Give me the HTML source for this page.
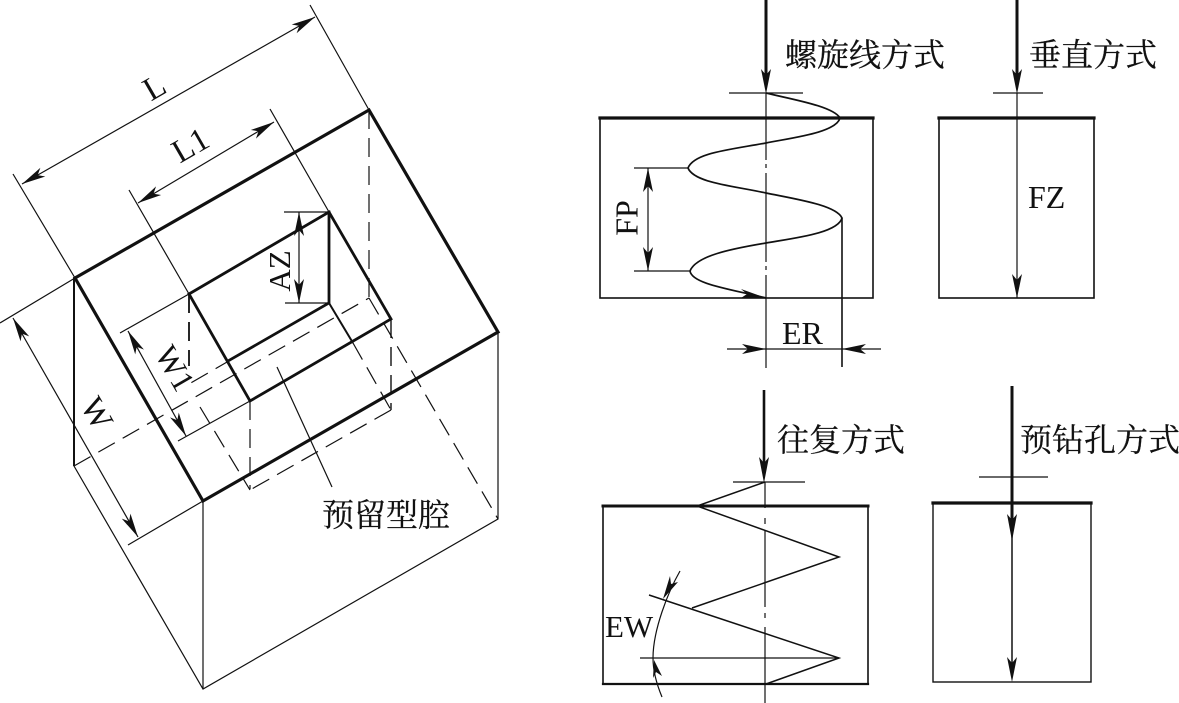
<!DOCTYPE html>
<html><head><meta charset="utf-8">
<style>
html,body{margin:0;padding:0;background:#fff;width:1179px;height:703px;overflow:hidden}
svg{display:block}
text{font-family:"Liberation Serif","Noto Serif CJK SC",serif;fill:#111}
.c{stroke:#111;stroke-width:.25}
.k{stroke:#111;stroke-width:3.2;fill:none;stroke-linecap:square}
.m{stroke:#111;stroke-width:2;fill:none}
.t{stroke:#111;stroke-width:1.2;fill:none}
.d{stroke:#111;stroke-width:1.2;fill:none;stroke-dasharray:19 9}
.b{marker-start:url(#ahs);marker-end:url(#ah)}
.a{marker-end:url(#ah)}
</style></head><body>
<svg width="1179" height="703" viewBox="0 0 1179 703" xmlns="http://www.w3.org/2000/svg">
<defs>
<marker id="ah" markerUnits="userSpaceOnUse" markerWidth="30" markerHeight="14" refX="25" refY="7" orient="auto">
<path d="M25,7 L1,2 L7,7 L1,12 Z" fill="#111"/></marker>
<marker id="ahs" markerUnits="userSpaceOnUse" markerWidth="30" markerHeight="14" refX="25" refY="7" orient="auto-start-reverse">
<path d="M25,7 L1,2 L7,7 L1,12 Z" fill="#111"/></marker>
</defs>
<rect width="1179" height="703" fill="#fff"/>

<!-- LEFT 3D FIGURE -->
<path class="k" d="M75,278 L369,110 L498,332 L203,501 Z"/>
<path class="t" d="M74,278 V466 L203,689 L498,519 V332 M203,501 V689"/>
<path class="m" d="M74,278 V466"/>
<!-- hidden -->
<path class="d" d="M74,466 L369,298"/>
<path class="d" d="M369,110 V298"/>
<path class="d" d="M369,298 L498,519"/>
<path class="d" d="M189,294 V366" style="stroke-width:1.8"/>
<path class="d" d="M250,401 V489"/>
<path class="d" d="M391,319 V410" style="stroke-width:1.4"/>
<path class="d" d="M391,410 L250,490"/>
<path class="d" d="M353,343 L391,410"/>
<path class="d" d="M329,303 L189,384"/>
<path class="d" d="M200,407 L250,490"/>
<!-- pocket -->
<path class="k" d="M189,294 L329,212 L391,319 L250,401 Z" style="stroke-width:2.8"/>
<path class="k" d="M329,212 V303 L228,361" style="stroke-width:2.8"/>
<path class="m" d="M329,303 L353,343"/>
<!-- dims -->
<path class="t" d="M13,174 L75,278 M310,5 L369,110"/>
<path class="t b" d="M22,184 L315,17"/>
<path class="t" d="M129,190 L189,294 M270,109 L329,212"/>
<path class="t b" d="M138,203 L274,122"/>
<path class="t" d="M0,323 L75,278 M128,545 L203,501"/>
<path class="t b" d="M13,318 L138,537"/>
<path class="t" d="M120,333 L189,294 M178,441 L250,401"/>
<path class="t b" d="M128,331 L186,436"/>
<path class="t" d="M284,212 H329 M285,303 H329"/>
<path class="t b" d="M299,212 V303"/>
<path class="t" d="M277,367 L332,487"/>
<text font-size="33" transform="translate(156,90) rotate(-30)" text-anchor="middle" dominant-baseline="middle">L</text>
<text font-size="33" transform="translate(192,148) rotate(-30)" text-anchor="middle" dominant-baseline="middle">L1</text>
<text font-size="33" transform="translate(94,415) rotate(60)" text-anchor="middle" dominant-baseline="middle">W</text>
<text font-size="32" transform="translate(172,370) rotate(60)" text-anchor="middle" dominant-baseline="middle">W1</text>
<text font-size="31" transform="translate(283,271) rotate(-90)" text-anchor="middle" dominant-baseline="middle">AZ</text>
<text class="c" x="322" y="526" font-size="32">预留型腔</text>

<!-- HELIX -->
<rect class="t" x="600" y="118" width="273" height="180" style="stroke-width:1.6"/>
<path class="k" d="M600,118 H873"/>
<path d="M766,0 V80" stroke="#111" stroke-width="3" fill="none"/>
<path d="M766,94 L761,69 L766,75 L771,69 Z" fill="#111"/>
<path class="t" d="M729,93 H803"/>
<path class="t" d="M766,93 V160 M766,164 V168 M766,173 V262 M766,266 V270 M766,275 V368"/>
<path class="m" style="stroke-width:1.7" d="M766,93 C790,99 833,106 840,118 C836,133 790,138 766,143 C728,150 694,153 688,168 C694,183 735,186 766,193 C795,199 836,205 842,218 C838,233 795,238 766,243 C730,249 696,256 690,271 C692,284 730,289 766,298"/>
<path d="M741,289 L766,298 L741,298 L747,294 Z" fill="#111"/>
<path class="t" d="M634,168 H688 M634,271 H690"/>
<path class="t b" d="M648,168 V271"/>
<path class="m" style="stroke-width:1.6" d="M842,218 V367"/>
<path class="t" d="M727,349 H881"/>
<path d="M766,349 L742,344 L748,349 L742,354 Z M842,349 L866,344 L860,349 L866,354 Z" fill="#111"/>
<text font-size="32" x="630" y="218" transform="rotate(-90 630 218)" text-anchor="middle" dominant-baseline="middle">FP</text>
<text font-size="32" x="782" y="344">ER</text>
<text class="c" x="785" y="66" font-size="32">螺旋线方式</text>

<!-- VERTICAL -->
<rect class="t" x="939" y="118" width="155" height="180" style="stroke-width:1.6"/>
<path class="k" d="M939,118 H1094"/>
<path d="M1017,0 V80" stroke="#111" stroke-width="3" fill="none"/>
<path d="M1017,94 L1012,69 L1017,75 L1022,69 Z" fill="#111"/>
<path class="t" d="M993,93 H1043"/>
<path class="t a" d="M1017,93 V298"/>
<text font-size="32" x="1028" y="208">FZ</text>
<text class="c" x="1029" y="66" font-size="32">垂直方式</text>

<!-- RECIPROCATING -->
<rect class="t" x="603" y="506" width="265" height="178" style="stroke-width:1.6"/>
<path class="k" d="M603,506 H868" style="stroke-width:3"/>
<path class="k" d="M603,684 H868" style="stroke-width:2.2"/>
<path d="M764,390 V470" stroke="#111" stroke-width="2.6" fill="none"/>
<path d="M764,483 L759,457 L764,463 L769,457 Z" fill="#111"/>
<path class="t" d="M733,482 H805"/>
<path class="t" d="M765,482 V508 M765,518 V524 M765,530 V607 M765,613 V618 M765,627 V703"/>
<path class="m" style="stroke-width:1.5" d="M765,482 L697,506 L839,557 L692,608"/>
<path class="m" style="stroke-width:1.5" d="M649,595 L839,658 L766,684"/>
<path class="t" d="M640,658 H839"/>
<path class="t" d="M680,571 C668,592 653,630 653,658 C653,672 657,685 662,697"/>
<path d="M663,599 L670,576 L671,584 L678,582 Z M654,660 L662,676 L656,672 L653,678 Z" fill="#111"/>
<text font-size="31" x="605" y="637">EW</text>
<text class="c" x="777" y="451" font-size="32">往复方式</text>

<!-- PRE-DRILL -->
<rect class="t" x="933" y="503" width="158" height="179" style="stroke-width:1.4"/>
<path class="k" d="M933,503 H1091"/>
<path d="M1012,386 V527" stroke="#111" stroke-width="3" fill="none"/>
<path d="M1012,541 L1007,514 L1012,520 L1017,514 Z" fill="#111"/>
<path class="t" d="M979,477 H1048"/>
<path class="t" d="M1012,535 V670" style="stroke-width:1.5"/>
<path d="M1012,682 L1007,657 L1012,663 L1017,657 Z" fill="#111"/>
<text class="c" x="1020" y="451" font-size="32">预钻孔方式</text>
</svg>
</body></html>
